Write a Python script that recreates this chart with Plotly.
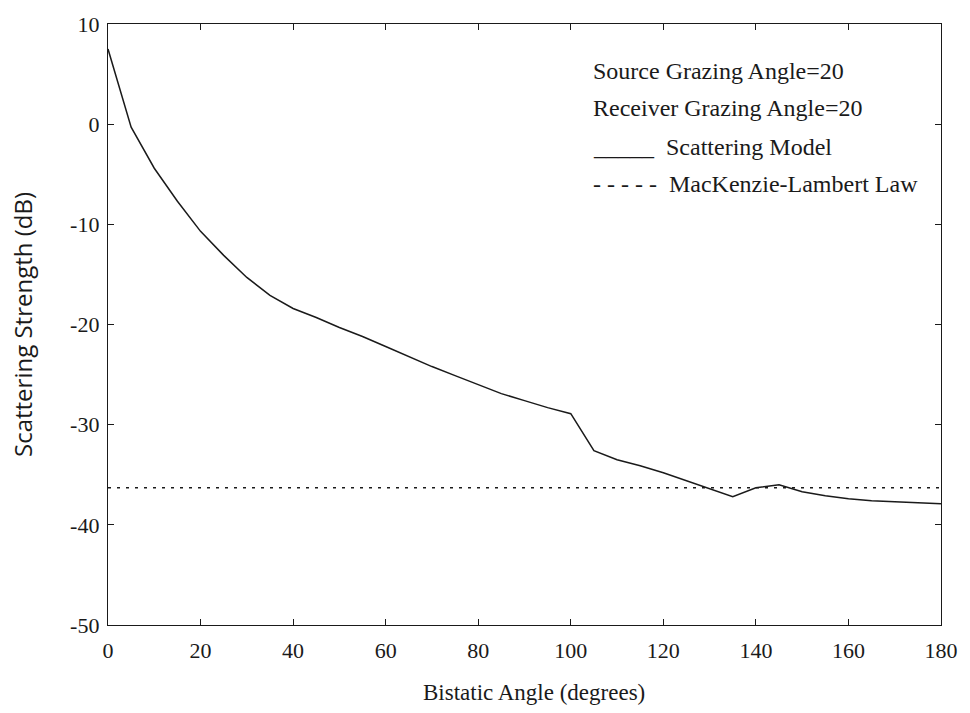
import plotly.graph_objects as go

# Data
bistatic_angle = [0, 5, 10, 15, 20, 25, 30, 35, 40, 45, 50, 55, 60, 65, 70, 75, 80, 85,
                  90, 95, 100, 105, 110, 115, 120, 125, 130, 135, 140, 145, 150, 155,
                  160, 165, 170, 175, 180]
scattering_model = [7.5, -0.3, -4.4, -7.7, -10.7, -13.1, -15.3, -17.1, -18.4, -19.3,
                     -20.3, -21.2, -22.2, -23.2, -24.2, -25.1, -26.0, -26.9, -27.6, -28.3,
                     -28.9, -32.6, -33.5, -34.1, -34.8, -35.6, -36.4, -37.2, -36.3, -36.0,
                     -36.7, -37.1, -37.4, -37.6, -37.7, -37.8, -37.9]
lambert_x = [0, 180]
lambert_y = [-36.3, -36.3]

x_ticks = [0, 20, 40, 60, 80, 100, 120, 140, 160, 180]
y_ticks = [10, 0, -10, -20, -30, -40, -50]
y_ticktext = ["10", "0", "-10", "-20", "-30", "-40", "-50"]

legend_lines = ["Source Grazing Angle=20", "Receiver Grazing Angle=20"]
series_names = ["Scattering Model", "MacKenzie-Lambert Law"]
x_title = "Bistatic Angle (degrees)"
y_title = "Scattering Strength (dB)"

FONT = "Liberation Serif"
INK = "#1a1a1a"

fig = go.Figure()
fig.add_trace(go.Scatter(x=bistatic_angle, y=scattering_model, mode="lines",
                         line=dict(color=INK, width=1.5), name=series_names[0],
                         showlegend=False))
fig.add_trace(go.Scatter(x=lambert_x, y=lambert_y, mode="lines",
                         line=dict(color=INK, width=1.3, dash="3px,6px"),
                         name=series_names[1], showlegend=False))

ann_font = dict(family=FONT, size=24, color=INK)
fig.add_annotation(xref="paper", yref="paper", x=0.580, y=0.922, xanchor="left",
                   yanchor="middle", showarrow=False, text=legend_lines[0], font=ann_font)
fig.add_annotation(xref="paper", yref="paper", x=0.580, y=0.860, xanchor="left",
                   yanchor="middle", showarrow=False, text=legend_lines[1], font=ann_font)
fig.add_annotation(xref="paper", yref="paper", x=0.580, y=0.795, xanchor="left",
                   yanchor="middle", showarrow=False,
                   text="_____  " + series_names[0], font=ann_font)
fig.add_annotation(xref="paper", yref="paper", x=0.580, y=0.734, xanchor="left",
                   yanchor="middle", showarrow=False,
                   text="- - - - -  " + series_names[1], font=ann_font)

# axis titles
fig.add_annotation(xref="paper", yref="paper", x=0.511, y=-0.112, xanchor="center",
                   yanchor="middle", showarrow=False, text=x_title,
                   font=dict(family=FONT, size=23, color=INK))

axis_common = dict(showline=True, linecolor=INK, linewidth=1.3, mirror="ticks",
                   ticks="inside", ticklen=6, tickcolor=INK, tickwidth=1.2,
                   showgrid=False, zeroline=False,
                   tickfont=dict(family=FONT, size=22, color=INK))

fig.update_xaxes(range=[0, 180], tickvals=x_ticks, ticklabelstandoff=5, **axis_common)
fig.update_yaxes(range=[-50, 10], tickvals=y_ticks, ticktext=y_ticktext,
                 ticklabelstandoff=3,
                 title=dict(text=y_title,
                            font=dict(family="Open Sans", size=24, color=INK), standoff=30),
                 **axis_common)

fig.update_layout(width=970, height=713, autosize=False,
                  margin=dict(l=108, r=23, t=19, b=88),
                  plot_bgcolor="white", paper_bgcolor="white")

fig.write_html("out.html", config={"displayModeBar": False},
               post_script="document.body.style.margin='0';"
                           "document.body.style.overflow='hidden';")
